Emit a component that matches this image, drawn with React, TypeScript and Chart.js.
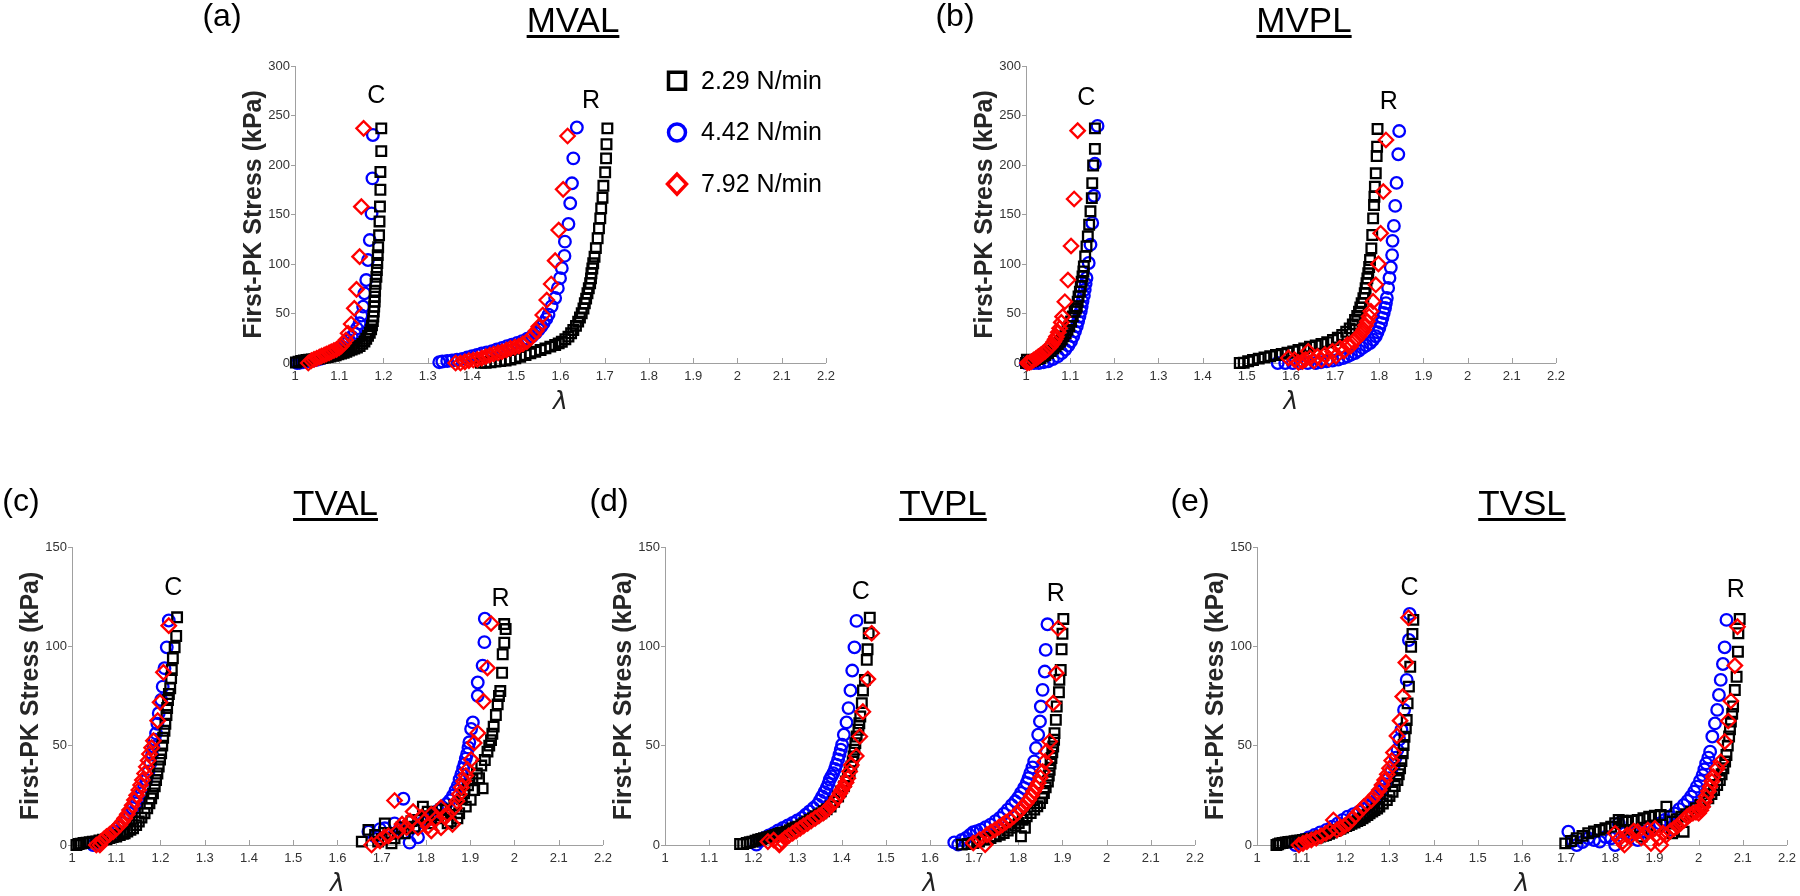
import React, { useEffect, useRef } from 'react';
import { Chart, registerables } from 'chart.js';

Chart.register(...registerables);

// ---------- axes / legend ----------
const xTicks = [1, 1.1, 1.2, 1.3, 1.4, 1.5, 1.6, 1.7, 1.8, 1.9, 2, 2.1, 2.2];
const xTickLabels = ['1', '1.1', '1.2', '1.3', '1.4', '1.5', '1.6', '1.7', '1.8', '1.9', '2', '2.1', '2.2'];
const yTicksTop = [0, 50, 100, 150, 200, 250, 300];
const yTicksBottom = [0, 50, 100, 150];
const seriesNames = ['2.29 N/min', '4.42 N/min', '7.92 N/min'];
const panelTitles = ['MVAL', 'MVPL', 'TVAL', 'TVPL', 'TVSL'];
const panelLetters = ['(a)', '(b)', '(c)', '(d)', '(e)'];
const xTitle = 'λ';
const yTitle = 'First-PK Stress (kPa)';

type P = [number, number];

// ---------- (a) MVAL ----------
const aBlackC: P[] = [[1.002,0.5],[1.008,1.4],[1.014,2.1],[1.020,2.6],[1.026,3.0],[1.032,3.3],[1.038,3.6],[1.044,3.9],[1.050,4.2],[1.056,4.6],[1.062,5.0],[1.068,5.5],[1.074,6.0],[1.080,6.6],[1.086,7.2],[1.092,7.9],[1.098,8.7],[1.104,9.5],[1.110,10.3],[1.116,11.4],[1.122,12.5],[1.128,13.5],[1.134,14.5],[1.140,15.6],[1.146,17.2],[1.152,19.3],[1.157,21.8],[1.161,24.5],[1.165,27.5],[1.169,30.5],[1.172,34],[1.174,38],[1.176,42.5],[1.177,47],[1.178,52],[1.179,57],[1.180,62],[1.180,67],[1.181,73],[1.182,80],[1.184,87],[1.185,94],[1.186,101],[1.187,109],[1.188,117],[1.190,129],[1.191,143],[1.192,158],[1.193,175],[1.193,193],[1.195,214],[1.195,237]];
const aBlackR: P[] = [[1.420,0.2],[1.431,0.3],[1.442,0.8],[1.453,1.4],[1.464,1.9],[1.476,2.4],[1.487,3.5],[1.498,4.7],[1.509,6.3],[1.521,8.1],[1.532,9.7],[1.543,11.4],[1.555,13.1],[1.566,14.8],[1.577,16.5],[1.588,18.2],[1.596,19.8],[1.603,21.5],[1.611,24],[1.618,26.6],[1.624,30],[1.629,33.3],[1.635,37.5],[1.640,41.8],[1.644,46],[1.648,50.2],[1.652,55],[1.655,60.3],[1.658,65],[1.661,70.4],[1.664,75.5],[1.667,80.6],[1.669,85.5],[1.670,90.6],[1.672,95.5],[1.674,100.7],[1.677,107.4],[1.680,116],[1.684,126],[1.687,136],[1.690,146.1],[1.692,156.2],[1.695,167],[1.697,179],[1.701,192.6],[1.703,206.7],[1.704,221],[1.706,237]];
const aBlueC: P[] = [[1.005,0],[1.011,0.3],[1.018,0.8],[1.026,1.4],[1.034,2.0],[1.041,2.5],[1.049,3.2],[1.057,4.2],[1.064,5.2],[1.071,6.4],[1.078,7.8],[1.086,9.4],[1.094,11.4],[1.101,13.5],[1.108,16],[1.116,19.9],[1.122,23],[1.128,26.5],[1.135,30],[1.140,35],[1.146,40.1],[1.150,48],[1.154,56.9],[1.157,70.4],[1.161,83.8],[1.165,104],[1.169,124.2],[1.173,151.1],[1.175,186.5],[1.176,230.3]];
const aBlueR: P[] = [[1.326,0.8],[1.333,1.5],[1.344,2.0],[1.355,2.5],[1.366,3.3],[1.378,4.2],[1.389,5.5],[1.400,6.9],[1.411,8.2],[1.422,9.6],[1.433,10.7],[1.445,11.9],[1.456,13.6],[1.468,15.3],[1.479,17],[1.490,18.6],[1.502,20.3],[1.513,22],[1.525,24.5],[1.536,27],[1.544,30.3],[1.551,33.7],[1.557,37],[1.562,40.4],[1.568,44.5],[1.573,48.8],[1.580,57.2],[1.588,65.6],[1.594,75.6],[1.599,85.7],[1.603,95.8],[1.609,108.2],[1.610,122.6],[1.618,140.4],[1.622,161.3],[1.626,181.5],[1.629,206.7],[1.637,237.9]];
const aRedC: P[] = [[1.030,0],[1.037,2.4],[1.043,3.6],[1.049,4.7],[1.055,6.0],[1.060,7.1],[1.066,8.1],[1.071,9.1],[1.077,10.2],[1.082,11.4],[1.088,12.6],[1.094,13.8],[1.100,15.5],[1.105,17.2],[1.110,20],[1.115,23.2],[1.120,30],[1.127,39.4],[1.134,55.2],[1.139,74.4],[1.146,107.4],[1.150,157.9],[1.155,237]];
const aRedR: P[] = [[1.363,0],[1.374,0],[1.384,1.2],[1.393,2.4],[1.403,3.0],[1.412,3.7],[1.422,5.0],[1.431,6.4],[1.440,7.8],[1.449,9.1],[1.459,10.2],[1.468,11.4],[1.478,13.1],[1.487,14.8],[1.497,16],[1.506,17.2],[1.515,19.3],[1.524,21.5],[1.532,25],[1.539,28.3],[1.545,32.5],[1.551,36.7],[1.560,48.5],[1.569,63.6],[1.579,79.8],[1.588,103.4],[1.596,134.3],[1.606,175.4],[1.616,229.3]];

// ---------- (b) MVPL ----------
const bBlackC: P[] = [[1.000,0],[1.002,3.4],[1.008,1.0],[1.015,1.7],[1.020,3.0],[1.026,4.0],[1.032,5.1],[1.038,6.5],[1.044,8.0],[1.050,10.1],[1.056,12],[1.062,14.5],[1.067,16.8],[1.072,19],[1.077,21.5],[1.081,24],[1.085,26.9],[1.090,30],[1.094,33.5],[1.098,37],[1.102,42],[1.106,47.1],[1.110,52],[1.113,55],[1.115,57.2],[1.117,62],[1.119,67.2],[1.122,72],[1.124,77.3],[1.126,82],[1.128,87.5],[1.130,92.5],[1.131,97.6],[1.134,107.7],[1.137,117.8],[1.140,127.9],[1.143,139.7],[1.146,153.2],[1.149,166.5],[1.150,181.7],[1.152,199.5],[1.156,216.3],[1.156,237]];
const bBlackR: P[] = [[1.484,0],[1.493,0.3],[1.503,1.7],[1.514,3.0],[1.527,4.4],[1.540,5.7],[1.553,6.9],[1.566,8.1],[1.579,9.2],[1.592,10.4],[1.605,11.7],[1.617,13.1],[1.630,14.8],[1.643,16.5],[1.656,17.8],[1.669,19.2],[1.682,21],[1.695,23.2],[1.706,25.5],[1.716,28.3],[1.725,31.5],[1.733,35],[1.740,39],[1.745,43.4],[1.750,47.5],[1.754,51.9],[1.757,56],[1.760,60.3],[1.764,65.5],[1.767,70.4],[1.769,75.5],[1.771,80.5],[1.773,85.5],[1.775,90.6],[1.777,97],[1.779,104],[1.782,115.8],[1.784,129.3],[1.786,146.1],[1.788,159.6],[1.789,168],[1.790,178.1],[1.792,191.6],[1.794,209.1],[1.795,218.5],[1.796,236.4]];
const bBlueC: P[] = [[1.000,0],[1.007,0],[1.018,0],[1.029,0],[1.040,0.8],[1.050,1.7],[1.061,4.0],[1.072,6.7],[1.081,10],[1.089,13.5],[1.096,17.5],[1.102,21.9],[1.107,27],[1.111,32],[1.115,37],[1.118,42.1],[1.121,47],[1.124,52.2],[1.126,57],[1.128,62.3],[1.131,68],[1.133,74.1],[1.135,80],[1.137,85.9],[1.142,101],[1.146,119.5],[1.150,141.4],[1.154,168.9],[1.156,201.2],[1.162,239.5]];
const bBlueR: P[] = [[1.570,0],[1.587,0],[1.604,0],[1.621,0],[1.638,0],[1.656,0],[1.668,0.8],[1.681,1.7],[1.694,2.5],[1.707,3.4],[1.718,5],[1.728,6.7],[1.736,8.4],[1.745,10.1],[1.754,12.6],[1.762,15.2],[1.770,17.7],[1.779,20.2],[1.786,23.5],[1.792,27],[1.796,31],[1.800,35.4],[1.804,40.5],[1.807,45.5],[1.810,50.5],[1.813,55.6],[1.815,60.5],[1.817,65.7],[1.820,75.8],[1.823,85.9],[1.826,96.5],[1.829,109],[1.830,123.4],[1.833,138.5],[1.836,158.7],[1.839,181.9],[1.843,210.8],[1.845,234.3]];
const bRedC: P[] = [[1.003,0],[1.008,0.5],[1.012,1.3],[1.017,3.0],[1.023,4.7],[1.028,6.4],[1.033,8.1],[1.038,9.8],[1.043,11.4],[1.049,14],[1.055,16.5],[1.059,19],[1.063,21.5],[1.066,24],[1.069,26.6],[1.073,31],[1.076,35],[1.080,41],[1.083,46.8],[1.088,61.9],[1.095,83.8],[1.102,118.2],[1.109,165.7],[1.117,234.7]];
const bRedR: P[] = [[1.594,5.1],[1.608,3.4],[1.617,0.5],[1.626,1.7],[1.633,3.5],[1.639,11.8],[1.643,5.1],[1.652,2.0],[1.660,6.7],[1.669,3.0],[1.677,8.4],[1.686,4.5],[1.694,11.8],[1.702,7.0],[1.711,15.2],[1.720,12],[1.728,18.5],[1.735,17],[1.741,21.9],[1.748,24],[1.754,27],[1.760,30.5],[1.765,33.7],[1.769,38],[1.773,42.1],[1.777,47],[1.781,52.2],[1.786,62.2],[1.792,79],[1.798,100.1],[1.803,131.1],[1.809,173.2],[1.815,225.3]];

// ---------- (c) TVAL ----------
const cBlackC: P[] = [[1.010,0],[1.015,0.5],[1.020,0.7],[1.026,1.0],[1.033,1.2],[1.040,1.4],[1.047,1.6],[1.055,1.8],[1.062,2.3],[1.070,2.7],[1.078,2.9],[1.085,3.5],[1.092,4.0],[1.100,4.3],[1.108,5.0],[1.115,5.6],[1.119,5.9],[1.125,6.8],[1.132,7.6],[1.138,8.4],[1.145,10],[1.151,11.8],[1.157,13.8],[1.164,16],[1.170,18.5],[1.175,21],[1.179,23.5],[1.183,26],[1.187,29.5],[1.190,32.7],[1.193,36],[1.196,39.5],[1.199,43],[1.2015,46.1],[1.204,50],[1.206,54],[1.209,57.5],[1.211,61],[1.2135,65.4],[1.215,69],[1.217,73],[1.219,76],[1.222,78.9],[1.224,84],[1.2256,88.1],[1.228,94],[1.232,99.5],[1.2355,105.2],[1.2375,114.6]];
const cBlackR: P[] = [[1.655,1.7],[1.670,7.6],[1.685,5.0],[1.692,1.7],[1.700,3.0],[1.707,10.9],[1.715,6.0],[1.722,0.8],[1.729,3.4],[1.737,5.9],[1.745,9.0],[1.752,5.9],[1.760,8.4],[1.767,12.0],[1.774,9.2],[1.782,12.6],[1.793,19.3],[1.800,14.0],[1.804,16.8],[1.812,10.9],[1.820,15.0],[1.827,13.4],[1.835,18.0],[1.845,17.6],[1.849,10.9],[1.856,11.8],[1.864,20.0],[1.871,13.4],[1.875,16.0],[1.881,23.0],[1.886,26],[1.890,19.3],[1.895,30],[1.901,22.7],[1.905,33],[1.909,27.7],[1.915,36],[1.920,33.6],[1.925,40],[1.928,28.5],[1.933,42.8],[1.939,47],[1.943,50],[1.947,52.8],[1.950,56],[1.953,59.6],[1.958,65.4],[1.962,70.8],[1.965,75],[1.968,77.5],[1.972,86.7],[1.9734,96],[1.977,101.8],[1.980,108.7],[1.9768,111.2]];
const cBlueC: P[] = [[1.048,0],[1.059,0],[1.068,1.7],[1.078,3.4],[1.087,5.0],[1.097,6.7],[1.106,8.8],[1.115,11],[1.122,13.5],[1.130,16],[1.137,18.5],[1.145,21],[1.151,23.5],[1.157,26],[1.163,29.5],[1.168,32.7],[1.173,37],[1.177,41.1],[1.181,45.5],[1.184,49.5],[1.187,53],[1.190,56.2],[1.193,61],[1.196,66.3],[1.2015,73],[1.205,79.7],[1.209,89],[1.2142,99.5],[1.2187,113]];
const cBlueR: P[] = [[1.670,6.7],[1.685,4.2],[1.696,8.0],[1.707,8.4],[1.718,5.5],[1.729,10.9],[1.740,8.0],[1.749,23.3],[1.752,6.4],[1.763,1.2],[1.774,8.9],[1.782,3.9],[1.793,11.4],[1.803,12.5],[1.812,13.9],[1.820,15.5],[1.827,17.3],[1.837,19],[1.846,20.6],[1.854,22.5],[1.861,24.8],[1.867,27.5],[1.872,29.9],[1.876,33],[1.880,35.7],[1.884,38.5],[1.887,40.8],[1.890,43.5],[1.893,45.8],[1.896,49],[1.898,51.7],[1.902,58.4],[1.906,61.7],[1.917,75.1],[1.917,81.8],[1.928,90.3],[1.932,102.1],[1.933,113.9]];
const cRedC: P[] = [[1.055,0],[1.063,0],[1.066,1.7],[1.072,3.0],[1.078,4.2],[1.085,5.4],[1.093,6.7],[1.100,8.4],[1.108,10.1],[1.114,11.8],[1.119,13.4],[1.125,15.5],[1.130,17.6],[1.136,20],[1.141,22.6],[1.146,25],[1.151,27.7],[1.155,30.2],[1.159,32.7],[1.164,36],[1.168,39.4],[1.172,42.5],[1.175,45.8],[1.180,49],[1.184,52.5],[1.1937,62.6],[1.199,71.8],[1.2066,86.9],[1.2187,110.4]];
const cRedR: P[] = [[1.677,0],[1.696,2.1],[1.706,4.0],[1.715,4.6],[1.729,22.4],[1.737,7.1],[1.746,10.5],[1.756,8.7],[1.764,12.0],[1.771,16.8],[1.782,8.7],[1.790,14.0],[1.797,12.1],[1.805,9.5],[1.812,15.5],[1.812,7.1],[1.822,13.0],[1.834,18.8],[1.834,8.7],[1.842,14.5],[1.849,15.5],[1.860,10.4],[1.864,18.8],[1.870,22],[1.875,25.5],[1.880,29],[1.885,32.1],[1.890,35],[1.894,38],[1.902,43],[1.909,51.4],[1.917,56.4],[1.930,72.3],[1.939,89.1],[1.947,111.5]];

// ---------- (d) TVPL ----------
const dBlackC: P[] = [[1.170,0.5],[1.177,0.5],[1.185,1.0],[1.192,1.4],[1.198,1.7],[1.205,2.2],[1.211,2.7],[1.218,3.0],[1.224,3.4],[1.231,3.8],[1.237,4.2],[1.244,4.6],[1.250,5.0],[1.257,5.6],[1.263,6.0],[1.270,6.3],[1.276,6.7],[1.283,7.5],[1.289,8.3],[1.296,8.8],[1.302,9.2],[1.309,10],[1.315,11],[1.322,11.8],[1.328,12.6],[1.335,13.5],[1.341,14.5],[1.348,15.3],[1.354,16],[1.360,17],[1.366,18],[1.375,19.4],[1.383,21.8],[1.392,24.4],[1.398,27],[1.405,29.5],[1.410,32],[1.414,34.5],[1.418,37],[1.422,39.5],[1.425,42],[1.427,44.6],[1.429,48],[1.431,51.3],[1.434,54.6],[1.438,58],[1.440,61.3],[1.4422,64.7],[1.4457,71.4],[1.4483,77.8],[1.4526,83.1],[1.4569,93.2],[1.4586,98.5],[1.4612,106.6],[1.4637,114.4]];
const dBlackR: P[] = [[1.672,0.2],[1.685,0.5],[1.698,1.0],[1.711,1.8],[1.724,2.7],[1.737,3.5],[1.749,4.4],[1.758,5.2],[1.767,6.0],[1.776,7.3],[1.784,8.6],[1.793,9.8],[1.801,11.1],[1.806,4.4],[1.810,12.7],[1.815,8.6],[1.819,14.4],[1.828,16.1],[1.836,17.8],[1.843,19.5],[1.849,21.1],[1.854,23.6],[1.858,26.2],[1.862,29],[1.867,32],[1.869,35],[1.871,37.9],[1.873,41],[1.875,43.8],[1.877,46.7],[1.879,49.6],[1.881,53],[1.882,56.3],[1.885,63],[1.887,69.7],[1.892,76.9],[1.893,83.1],[1.896,88.1],[1.898,98.5],[1.900,106.3],[1.902,113.8]];
const dBlueC: P[] = [[1.207,0.2],[1.215,2.0],[1.224,3.5],[1.235,4.8],[1.246,6.0],[1.256,7.3],[1.267,8.6],[1.278,9.8],[1.289,11.1],[1.299,12.3],[1.310,13.6],[1.318,15.2],[1.327,16.9],[1.336,18.6],[1.345,20.3],[1.351,22.4],[1.356,24.5],[1.361,26.6],[1.366,28.7],[1.370,30.8],[1.373,32.9],[1.377,34.5],[1.381,36.2],[1.385,38.3],[1.388,40.4],[1.392,43],[1.395,45.5],[1.398,48],[1.401,50.5],[1.405,55.5],[1.411,61.7],[1.4155,68.9],[1.420,77.8],[1.424,87.8],[1.429,99.5],[1.4335,112.8]];
const dBlueR: P[] = [[1.655,1.3],[1.664,0.2],[1.672,2.5],[1.681,3.5],[1.690,5.0],[1.698,6.4],[1.706,7.0],[1.715,7.7],[1.726,9.0],[1.737,10.2],[1.748,12],[1.758,13.6],[1.767,15.7],[1.776,17.8],[1.785,20],[1.793,22],[1.800,24],[1.806,26.2],[1.813,28.7],[1.819,31.2],[1.823,33.7],[1.827,36.2],[1.832,39],[1.836,42.1],[1.840,48.8],[1.845,55.5],[1.849,62.2],[1.851,69.7],[1.855,78.1],[1.860,87.3],[1.862,98.2],[1.866,111.1]];
const dRedC: P[] = [[1.233,1.7],[1.246,2.5],[1.259,0.8],[1.259,0],[1.265,2.0],[1.272,3.4],[1.280,4.6],[1.289,5.9],[1.297,7.1],[1.306,8.4],[1.314,9.6],[1.323,10.9],[1.331,12.1],[1.340,13.4],[1.349,14.7],[1.358,16],[1.364,17.2],[1.370,18.5],[1.377,20.1],[1.383,21.8],[1.390,23.9],[1.396,26],[1.400,27.7],[1.405,29.4],[1.410,31.5],[1.414,33.6],[1.418,37],[1.422,40.3],[1.433,44.8],[1.441,54.6],[1.448,67.1],[1.4593,83.5],[1.468,106.6]];
const dRedR: P[] = [[1.698,1.0],[1.712,2.7],[1.725,0.2],[1.729,5.2],[1.738,6.5],[1.747,7.7],[1.756,9.0],[1.764,10.2],[1.772,11.5],[1.781,12.8],[1.790,14.5],[1.798,16.1],[1.805,17.8],[1.811,19.5],[1.818,21.1],[1.824,22.8],[1.830,24.9],[1.835,27],[1.840,29],[1.845,31.2],[1.850,34],[1.855,37],[1.860,42],[1.864,47.1],[1.871,52.1],[1.879,71.4],[1.886,86.5],[1.890,109.1]];

// ---------- (e) TVSL ----------
const eBlackC: P[] = [[1.044,0],[1.048,0.4],[1.052,0.8],[1.058,1.0],[1.065,1.3],[1.071,1.5],[1.078,1.7],[1.085,1.9],[1.091,2.1],[1.098,2.3],[1.104,2.5],[1.111,2.8],[1.117,3.0],[1.124,3.2],[1.130,3.4],[1.137,3.8],[1.143,4.2],[1.150,4.6],[1.156,5.0],[1.163,5.6],[1.169,6.3],[1.176,7.0],[1.182,7.6],[1.189,8.2],[1.195,8.8],[1.202,9.5],[1.208,10.1],[1.214,10.7],[1.221,11.3],[1.227,12],[1.233,12.6],[1.239,13.4],[1.244,14.2],[1.250,15.1],[1.255,15.9],[1.261,16.8],[1.266,17.6],[1.272,18.4],[1.277,19.3],[1.285,20.9],[1.294,22.6],[1.300,24.7],[1.307,26.8],[1.312,29.7],[1.318,32.7],[1.321,35.6],[1.324,38.6],[1.327,42.3],[1.330,46.1],[1.332,50.3],[1.334,54.5],[1.337,58.7],[1.339,62.9],[1.341,71.3],[1.344,79.7],[1.347,89.7],[1.349,99.8],[1.352,106.2],[1.354,113.3]];
const eBlackR: P[] = [[1.698,0.8],[1.711,2.0],[1.724,3.4],[1.737,4.6],[1.750,5.9],[1.763,6.8],[1.776,7.6],[1.789,8.4],[1.802,9.2],[1.811,11],[1.819,12.6],[1.828,12.2],[1.836,11.8],[1.845,7.6],[1.849,12.2],[1.862,12.6],[1.871,4.2],[1.875,13.5],[1.888,14.3],[1.901,14.7],[1.905,9.2],[1.914,15.1],[1.927,19.3],[1.940,11.8],[1.940,5.9],[1.950,13.0],[1.961,14.3],[1.966,6.7],[1.972,15.5],[1.983,16.8],[1.994,18.5],[2.004,20.1],[2.013,21.8],[2.022,23.5],[2.029,25.6],[2.035,27.7],[2.042,30.2],[2.048,32.7],[2.052,35.6],[2.056,38.6],[2.060,42],[2.063,45.3],[2.066,50],[2.069,54.6],[2.071,58.3],[2.073,62.1],[2.076,66],[2.078,69.7],[2.082,78],[2.086,84.7],[2.089,97.3],[2.090,106.6],[2.093,113.8]];
const eBlueC: P[] = [[1.087,0],[1.095,1.2],[1.104,2.5],[1.117,3.8],[1.130,5.0],[1.143,6.3],[1.157,7.6],[1.170,9.2],[1.183,10.9],[1.194,12.6],[1.205,14.3],[1.218,15.5],[1.231,16.8],[1.241,18],[1.252,19.3],[1.260,20.9],[1.269,22.6],[1.276,25.1],[1.284,27.7],[1.291,30.6],[1.298,33.6],[1.304,37],[1.310,40.3],[1.314,44],[1.318,47.9],[1.322,53],[1.327,58],[1.333,68],[1.339,83.1],[1.344,103.2],[1.3456,116.3]];
const eBlueR: P[] = [[1.705,6.7],[1.715,2.0],[1.724,0],[1.737,1.5],[1.750,3.4],[1.763,2.5],[1.776,1.7],[1.789,4.0],[1.802,3.4],[1.811,0],[1.819,10.9],[1.832,6.0],[1.845,5.9],[1.862,2.5],[1.868,6.5],[1.875,6.7],[1.888,8.0],[1.901,9.2],[1.912,10.9],[1.923,12.6],[1.934,14.2],[1.940,7.6],[1.945,15.9],[1.956,18],[1.966,20.1],[1.975,22.2],[1.983,24.4],[1.990,26.9],[1.996,29.4],[2.003,32.3],[2.009,35.2],[2.013,38.1],[2.017,41.1],[2.022,44],[2.026,47],[2.031,54.6],[2.037,61.2],[2.042,68],[2.046,75.5],[2.050,83.1],[2.055,91.1],[2.059,99.5],[2.063,113.3]];
const eRedC: P[] = [[1.095,0],[1.104,0.8],[1.113,1.7],[1.123,2.5],[1.134,3.4],[1.145,4.6],[1.156,5.9],[1.165,7.1],[1.173,12.6],[1.181,7.6],[1.190,8.4],[1.198,9.6],[1.207,10.9],[1.215,13],[1.224,15.1],[1.233,17.2],[1.242,19.3],[1.250,21],[1.259,22.6],[1.268,25.1],[1.277,27.7],[1.283,30.2],[1.289,32.7],[1.295,35.6],[1.300,38.6],[1.305,42.5],[1.309,46.5],[1.317,54.9],[1.324,62.6],[1.330,74.7],[1.337,91.8],[1.343,114.4]];
const eRedR: P[] = [[1.811,5.9],[1.820,3.0],[1.828,1.7],[1.832,0],[1.838,5.0],[1.845,4.2],[1.853,7.0],[1.862,6.7],[1.870,3.5],[1.879,5.0],[1.885,7.5],[1.892,0.8],[1.901,8.4],[1.910,3.4],[1.914,0],[1.919,6.0],[1.927,5.0],[1.936,7.0],[1.945,8.4],[1.952,9.5],[1.959,10.9],[1.967,12.5],[1.974,14.3],[1.980,15.2],[1.987,16],[1.994,16.5],[2.000,16],[2.005,17.5],[2.009,19.3],[2.013,21.8],[2.017,24.4],[2.022,27],[2.026,29.4],[2.030,32],[2.033,34.4],[2.042,38.6],[2.050,41.9],[2.059,52],[2.067,62.4],[2.073,72.5],[2.082,90.3],[2.088,109.9]];

// C / R annotation anchors (lambda, stress)
const aLabels: [string, number, number][] = [['C', 1.1836, 270], ['R', 1.669, 265]];
const bLabels: [string, number, number][] = [['C', 1.1366, 267.7], ['R', 1.8217, 263.6]];
const cLabels: [string, number, number][] = [['C', 1.229, 129.4], ['R', 1.9685, 123.8]];
const dLabels: [string, number, number][] = [['C', 1.4435, 127.3], ['R', 1.8847, 126.3]];
const eLabels: [string, number, number][] = [['C', 1.3456, 129.4], ['R', 2.084, 128.4]];

// ---------- layout (pixel boxes of the plot areas) ----------
const FONT = 'Arial, "Liberation Sans", Helvetica, sans-serif';
const LEFT_SPACE = 70;
const TOP_SPACE = 40;
const RIGHT_SPACE = 12;
const BOTTOM_SPACE = 55;

const panels = [
  { black: [...aBlackC, ...aBlackR], blue: [...aBlueC, ...aBlueR], red: [...aRedC, ...aRedR], labels: aLabels, yMax: 300, yTicks: yTicksTop, legend: true,
    box: { left: 295, top: 66, width: 534, height: 297 }, letterX: 222, letterTop: -1, titleX: 573, titleTop: 1.5 },
  { black: [...bBlackC, ...bBlackR], blue: [...bBlueC, ...bBlueR], red: [...bRedC, ...bRedR], labels: bLabels, yMax: 300, yTicks: yTicksTop, legend: false,
    box: { left: 1026, top: 66, width: 533, height: 297 }, letterX: 955, letterTop: -1, titleX: 1304, titleTop: 1.5 },
  { black: [...cBlackC, ...cBlackR], blue: [...cBlueC, ...cBlueR], red: [...cRedC, ...cRedR], labels: cLabels, yMax: 150, yTicks: yTicksBottom, legend: false,
    box: { left: 72, top: 547, width: 534, height: 298 }, letterX: 21, letterTop: 483.5, titleX: 335.5, titleTop: 484.5 },
  { black: [...dBlackC, ...dBlackR], blue: [...dBlueC, ...dBlueR], red: [...dRedC, ...dRedR], labels: dLabels, yMax: 150, yTicks: yTicksBottom, legend: false,
    box: { left: 665, top: 547, width: 533, height: 298 }, letterX: 609, letterTop: 483.5, titleX: 943, titleTop: 484.5 },
  { black: [...eBlackC, ...eBlackR], blue: [...eBlueC, ...eBlueR], red: [...eRedC, ...eRedR], labels: eLabels, yMax: 150, yTicks: yTicksBottom, legend: false,
    box: { left: 1257, top: 547, width: 533, height: 298 }, letterX: 1190, letterTop: 483.5, titleX: 1522, titleTop: 484.5 },
];

const toPts = (arr: P[]) => arr.map(([x, y]) => ({ x, y }));

const innerXTicks = {
  id: 'innerXTicks',
  beforeDatasetsDraw(chart: any) {
    const { ctx, chartArea } = chart;
    const x = chart.scales.x;
    ctx.save();
    ctx.strokeStyle = '#a0a0a0';
    ctx.lineWidth = 1;
    x.ticks.forEach((t: any) => {
      const px = Math.round(x.getPixelForValue(t.value)) + 0.5;
      ctx.beginPath();
      ctx.moveTo(px, chartArea.bottom);
      ctx.lineTo(px, chartArea.bottom - 5);
      ctx.stroke();
    });
    ctx.restore();
  },
};

function makeLabelPlugin(labels: [string, number, number][]) {
  return {
    id: 'crLabels',
    afterDatasetsDraw(chart: any) {
      const { ctx } = chart;
      const x = chart.scales.x;
      const y = chart.scales.y;
      ctx.save();
      ctx.fillStyle = '#000';
      ctx.font = `25px ${FONT}`;
      ctx.textAlign = 'center';
      ctx.textBaseline = 'middle';
      labels.forEach(([t, lx, ly]) => ctx.fillText(t, x.getPixelForValue(lx), y.getPixelForValue(ly)));
      ctx.restore();
    },
  };
}

const legendPlugin = {
  id: 'customLegend',
  afterDatasetsDraw(chart: any) {
    const { ctx, chartArea } = chart;
    const mx = chartArea.left + 382;
    const tx = chartArea.left + 406;
    const colors = ['#000000', '#0000ff', '#ff0000'];
    ctx.save();
    ctx.lineWidth = 3.5;
    seriesNames.forEach((name, i) => {
      const my = chartArea.top + 14.7 + i * 51.7;
      ctx.strokeStyle = colors[i];
      ctx.beginPath();
      if (i === 0) ctx.rect(mx - 8.5, my - 8.5, 17, 17);
      else if (i === 1) ctx.arc(mx, my, 8.5, 0, Math.PI * 2);
      else {
        ctx.moveTo(mx, my - 10);
        ctx.lineTo(mx + 9.5, my);
        ctx.lineTo(mx, my + 10);
        ctx.lineTo(mx - 9.5, my);
        ctx.closePath();
      }
      ctx.stroke();
      ctx.fillStyle = '#000';
      ctx.font = `25px ${FONT}`;
      ctx.textAlign = 'left';
      ctx.textBaseline = 'middle';
      ctx.fillText(name, tx, my + 1);
    });
    ctx.restore();
  },
};

function buildConfig(p: any): any {
  const plugins: any[] = [innerXTicks, makeLabelPlugin(p.labels)];
  if (p.legend) plugins.push(legendPlugin);
  const common = { pointBackgroundColor: 'rgba(0,0,0,0)', backgroundColor: 'rgba(0,0,0,0)', pointBorderWidth: 2.3, clip: false, showLine: false };
  return {
    type: 'scatter',
    data: {
      datasets: [
        { ...common, label: seriesNames[0], data: toPts(p.black), pointStyle: 'rect', pointRadius: 6.8, borderColor: '#000000', pointBorderColor: '#000000', order: 1 },
        { ...common, label: seriesNames[1], data: toPts(p.blue), pointStyle: 'circle', pointRadius: 5.8, borderColor: '#0000ff', pointBorderColor: '#0000ff', order: 2 },
        { ...common, label: seriesNames[2], data: toPts(p.red), pointStyle: 'rectRot', pointRadius: 7.2, borderColor: '#ff0000', pointBorderColor: '#ff0000', order: 0 },
      ],
    },
    options: {
      responsive: false,
      maintainAspectRatio: false,
      animation: false,
      events: [],
      layout: { padding: { left: 0, top: TOP_SPACE, right: RIGHT_SPACE, bottom: 0 } },
      plugins: { legend: { display: false }, tooltip: { enabled: false }, title: { display: false } },
      scales: {
        x: {
          type: 'linear',
          min: 1,
          max: 2.2,
          afterBuildTicks: (s: any) => { s.ticks = xTicks.map((v) => ({ value: v })); },
          afterFit: (s: any) => { s.height = BOTTOM_SPACE; },
          grid: { display: true, drawOnChartArea: false, drawTicks: false },
          border: { display: true, color: '#a0a0a0', width: 1 },
          ticks: {
            padding: 6,
            color: '#333333',
            font: { family: FONT, size: 13 },
            maxRotation: 0,
            autoSkip: false,
            callback: (_v: any, i: number) => xTickLabels[i],
          },
          title: { display: true, text: xTitle, color: '#222222', font: { family: '"DejaVu Sans", ' + FONT, size: 25, style: 'italic' }, padding: { top: 0, bottom: 1 } },
        },
        y: {
          type: 'linear',
          min: 0,
          max: p.yMax,
          afterBuildTicks: (s: any) => { s.ticks = p.yTicks.map((v: number) => ({ value: v })); },
          afterFit: (s: any) => { s.width = LEFT_SPACE; },
          grid: { display: true, drawOnChartArea: false, drawTicks: true, tickLength: 4, color: '#a0a0a0' },
          border: { display: true, color: '#a0a0a0', width: 1 },
          ticks: {
            padding: 1,
            color: '#333333',
            font: { family: FONT, size: 13 },
            autoSkip: false,
            callback: (v: any) => String(v),
          },
          title: { display: true, text: yTitle, color: '#262626', font: { family: FONT, size: 25, weight: 'bold' }, padding: { top: 14, bottom: 0 } },
        },
      },
    },
    plugins,
  };
}

export default function App() {
  const refs = useRef<(HTMLCanvasElement | null)[]>([]);

  useEffect(() => {
    document.body.style.margin = '0';
    const charts = panels.map((p, i) => {
      const c = refs.current[i];
      if (!c) return null;
      return new Chart(c, buildConfig(p));
    });
    return () => {
      charts.forEach((ch) => ch && ch.destroy());
    };
  }, []);

  return (
    <div style={{ position: 'absolute', left: 0, top: 0, width: 1800, height: 896, overflow: 'hidden', background: '#ffffff', fontFamily: FONT }}>
      {panels.map((p, i) => {
        const w = p.box.width + LEFT_SPACE + RIGHT_SPACE;
        const h = p.box.height + TOP_SPACE + BOTTOM_SPACE;
        return (
          <canvas
            key={'c' + i}
            ref={(el) => { refs.current[i] = el; }}
            width={w}
            height={h}
            style={{ position: 'absolute', left: p.box.left - LEFT_SPACE, top: p.box.top - TOP_SPACE, width: w, height: h }}
          />
        );
      })}
      {panels.map((p, i) => (
        <div
          key={'l' + i}
          style={{ position: 'absolute', left: p.letterX - 60, top: p.letterTop, width: 120, textAlign: 'center', fontSize: 32, lineHeight: '32px', color: '#000', whiteSpace: 'nowrap' }}
        >
          {panelLetters[i]}
        </div>
      ))}
      {panels.map((p, i) => (
        <div
          key={'t' + i}
          style={{ position: 'absolute', left: p.titleX - 150, top: p.titleTop, width: 300, textAlign: 'center', fontSize: 35, lineHeight: '35px', color: '#000', whiteSpace: 'nowrap' }}
        >
          <span style={{ textDecoration: 'underline', textDecorationThickness: '3px', textUnderlineOffset: '3px' }}>{panelTitles[i]}</span>
        </div>
      ))}
    </div>
  );
}
